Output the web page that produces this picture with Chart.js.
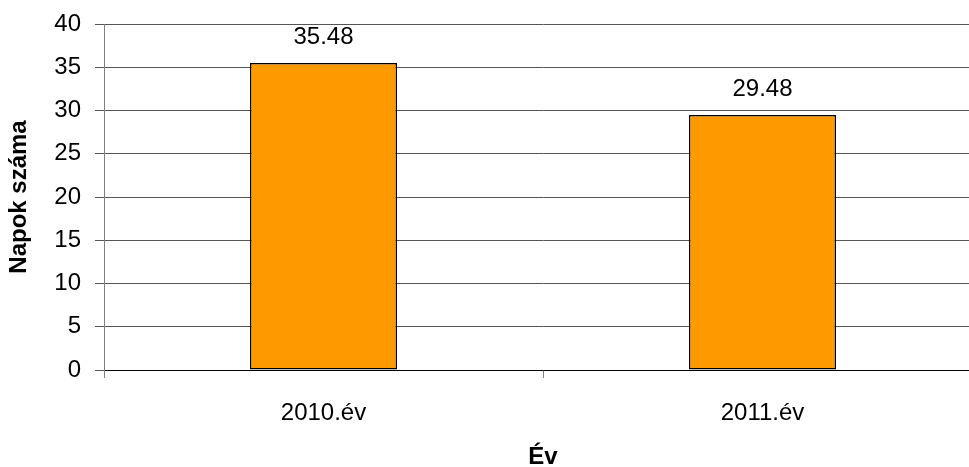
<!DOCTYPE html>
<html>
<head>
<meta charset="utf-8">
<script src="https://cdn.jsdelivr.net/npm/chart.js@4/dist/chart.umd.min.js"></script>
<style>
  html, body { margin: 0; padding: 0; background: #fff; overflow: hidden; }
  #wrap { position: relative; width: 983px; height: 467px; }
</style>
</head>
<body>
<div id="wrap"><canvas id="c"></canvas></div>
<script>
// Average number of days per year
const categories = ['2010.év', '2011.év'];
const days = [35.48, 29.48];
const yTicks = [0, 5, 10, 15, 20, 25, 30, 35, 40];

const FONT = '"Liberation Sans", Arial, sans-serif';

// Writes each bar's value above it
const valueLabels = {
  id: 'valueLabels',
  afterDatasetsDraw(chart) {
    const ctx = chart.ctx;
    const meta = chart.getDatasetMeta(0);
    ctx.save();
    ctx.font = '24px ' + FONT;
    ctx.fillStyle = '#000';
    ctx.textAlign = 'center';
    ctx.textBaseline = 'middle';
    meta.data.forEach((bar, i) => {
      ctx.fillText(days[i].toFixed(2), bar.x, bar.y - 26);
    });
    ctx.restore();
  }
};

new Chart(document.getElementById('c'), {
  type: 'bar',
  data: {
    labels: categories,
    datasets: [{
      data: days,
      backgroundColor: '#FF9900',
      borderColor: '#000000',
      borderWidth: 1.5,
      borderSkipped: false,
      barPercentage: 0.335,
      categoryPercentage: 1.0
    }]
  },
  options: {
    responsive: true,
    maintainAspectRatio: false,
    animation: false,
    devicePixelRatio: 1,
    layout: { padding: { top: 24, right: 1, left: 0, bottom: 0 } },
    plugins: {
      legend: { display: false },
      tooltip: { enabled: false }
    },
    scales: {
      x: {
        offset: true,
        grid: {
          display: true,
          offset: true,
          drawOnChartArea: false,
          tickLength: 8,
          color: '#808080'
        },
        border: { display: true, color: '#000', width: 1 },
        ticks: {
          color: '#000',
          font: { family: FONT, size: 24 },
          padding: 21
        },
        title: {
          display: true,
          text: 'Év',
          color: '#000',
          font: { family: FONT, size: 24, weight: 'bold', lineHeight: 0.8 },
          padding: { top: 0, bottom: 0 }
        },
        afterFit(scale) { scale.height = 97; }
      },
      y: {
        min: 0,
        max: 40,
        afterBuildTicks(scale) { scale.ticks = yTicks.map(v => ({ value: v })); },
        grid: {
          color: '#555555',
          tickLength: 9,
          drawTicks: true
        },
        border: { display: true, color: '#808080', width: 1 },
        ticks: {
          color: '#000',
          font: { family: FONT, size: 24 },
          padding: 14
        },
        title: {
          display: true,
          text: 'Napok száma',
          color: '#000',
          font: { family: FONT, size: 24, weight: 'bold' },
          padding: { top: 5, bottom: 0 }
        },
        afterFit(scale) {
          scale.width = 104;
          scale.paddingTop = 0;
          scale.paddingBottom = 0;
        }
      }
    }
  },
  plugins: [valueLabels]
});
</script>
</body>
</html>
